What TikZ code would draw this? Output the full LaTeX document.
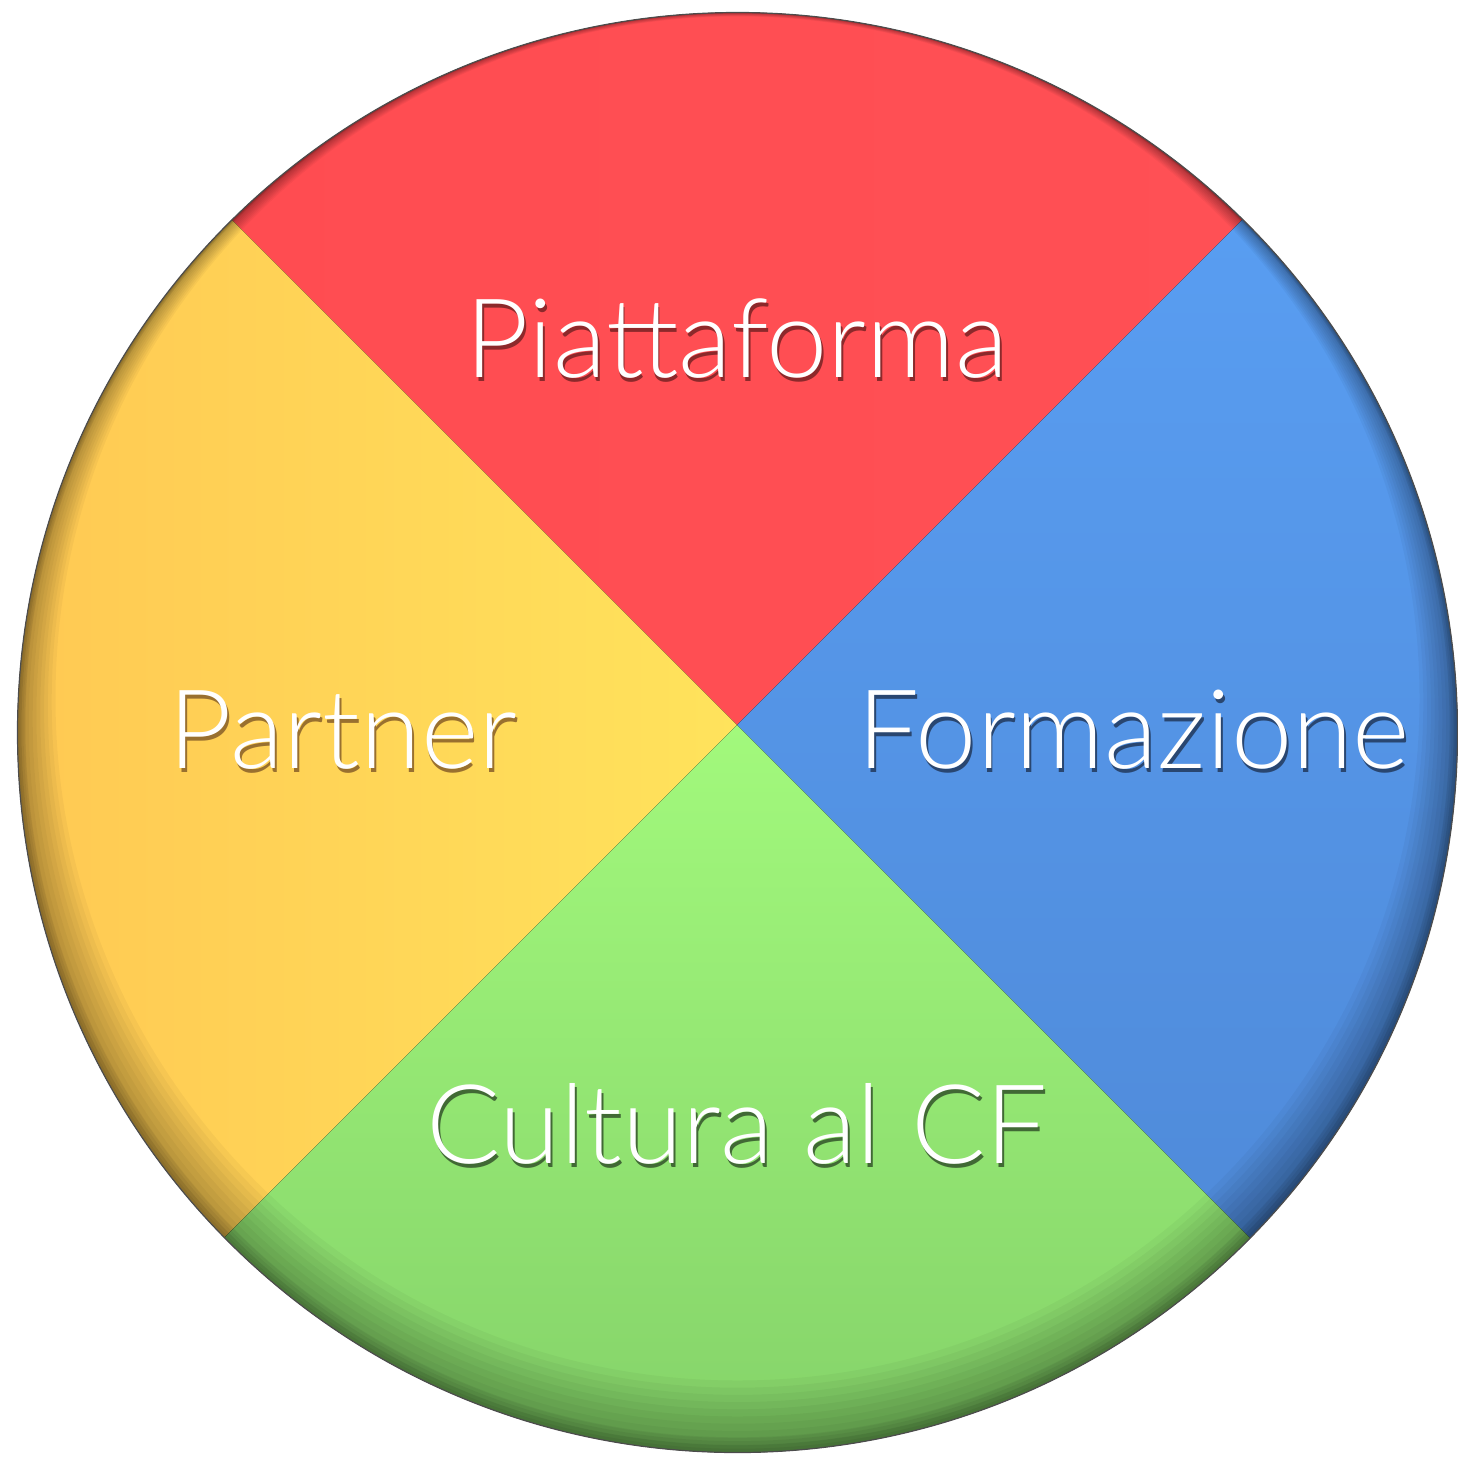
\documentclass[tikz,border=0pt]{standalone}
\usepackage{fontspec}
\setmainfont{TeX Gyre Heros}
\newfontfamily\lightfont{Lato Light}
\definecolor{redA}{HTML}{FF4A4F}
\definecolor{redB}{HTML}{FF5257}
\definecolor{yelL}{HTML}{FFBB4E}
\definecolor{yelR}{HTML}{FFE35C}
\definecolor{bluT}{HTML}{5EA8FF}
\definecolor{bluB}{HTML}{4A80CC}
\definecolor{greT}{HTML}{A2F97C}
\definecolor{greB}{HTML}{76BF60}
\newcommand{\shtext}[2]{\makebox[0pt][l]{\raisebox{-4pt}[0pt][0pt]{\kern2pt\textcolor{#1}{#2}}}#2}
\tikzset{
  lbl/.style={text=white, font=\lightfont\fontsize{110}{120}\selectfont, inner sep=0pt, anchor=base}
}
\begin{document}
\begin{tikzpicture}[x=1pt,y=-1pt]
\useasboundingbox (0,0) rectangle (1458,1457);
\coordinate (o) at (737.5,732.5);
\coordinate (c) at (737,725);
\begin{scope}
  \clip (o) circle (720);
  \fill[left color=redA, right color=redB] (c) -- ++(-1100,-1100) -- ++(2200,0) -- cycle;
  \fill[left color=yelL, right color=yelR] (c) -- ++(-1100,-1100) -- ++(0,2200) -- cycle;
  \fill[top color=bluT, bottom color=bluB] (c) -- ++(1100,-1100) -- ++(0,2200) -- cycle;
  \fill[top color=greT, bottom color=greB] (c) -- ++(-1100,1100) -- ++(2200,0) -- cycle;
  \foreach \i in {1,...,10} {
    \fill[black, opacity=0.035, even odd rule] (o) circle (720)
      ([yshift=3.4*\i pt]o) circle ({720-3.8*\i});
  }
  \foreach \i in {1,...,4} {
    \fill[black, opacity=0.05, even odd rule] (o) circle (720)
      ([yshift=1.8*\i pt]o) circle ({720-2*\i});
  }
\end{scope}
\draw[black!70, line width=1.2pt] (o) circle (720);
\node[lbl] (p) at (737,377) {\shtext{redA!55!black}{Piattaforma}};
\node[lbl] (a) at (343,768) {\shtext{yelL!60!black}{Partner}};
\node[lbl] (f) at (1134,768) {\shtext{bluB!55!black}{Formazione}};
\node[lbl] (k) at (737,1163) {\shtext{greB!55!black}{Cultura al CF}};
\end{tikzpicture}
\end{document}
